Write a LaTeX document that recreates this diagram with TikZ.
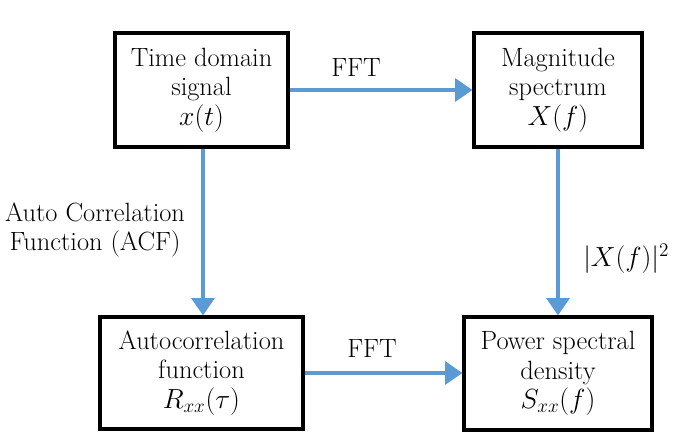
\documentclass[tikz,border=0pt]{standalone}
\usepackage{fontspec}
\usetikzlibrary{arrows.meta}
\definecolor{arrowblue}{HTML}{5B9BD5}
\begin{document}
\begin{tikzpicture}[x=0.75pt,y=-0.75pt,
  blockbox/.style={draw=black,line width=2.3pt,align=center,inner sep=0pt,
    font=\fontsize{19.8}{22}\selectfont},
  flow/.style={draw=arrowblue,line width=3pt,-{Triangle[length=13pt,width=17pt]}},
  lbl/.style={align=center,font=\fontsize{19.8}{22}\selectfont,inner sep=0pt}]
\useasboundingbox (0,0) rectangle (681,448);
\node[blockbox,minimum width=173*0.75pt,minimum height=114*0.75pt] (tds) at (201.5,90) {Time domain\\signal\\$x(t)$};
\node[blockbox,minimum width=168*0.75pt,minimum height=114*0.75pt] (mag) at (558,90) {Magnitude\\spectrum\\$X(f)$};
\node[blockbox,minimum width=203*0.75pt,minimum height=112*0.75pt] (acf) at (201.5,373) {Autocorrelation\\function\\$R_{xx}(\tau)$};
\node[blockbox,minimum width=188*0.75pt,minimum height=113*0.75pt] (psd) at (558,373.5) {Power spectral\\density\\$S_{xx}(f)$};
\draw[flow] (tds.east) -- (mag.west);
\draw[flow] (acf.east |- 0,373) -- (psd.west |- 0,373);
\draw[flow] (tds.south -| 203,0) -- (acf.north -| 203,0);
\draw[flow] (mag.south) -- (psd.north);
\node[lbl] (fft1) at (356,68) {FFT};
\node[lbl] (fft2) at (372,349) {FFT};
\node[lbl,anchor=west] (sq) at (583,259) {$|X(f)|^2$};
\node[lbl] (acflbl) at (95,230) {Auto Correlation\\Function (ACF)};
\end{tikzpicture}
\end{document}
